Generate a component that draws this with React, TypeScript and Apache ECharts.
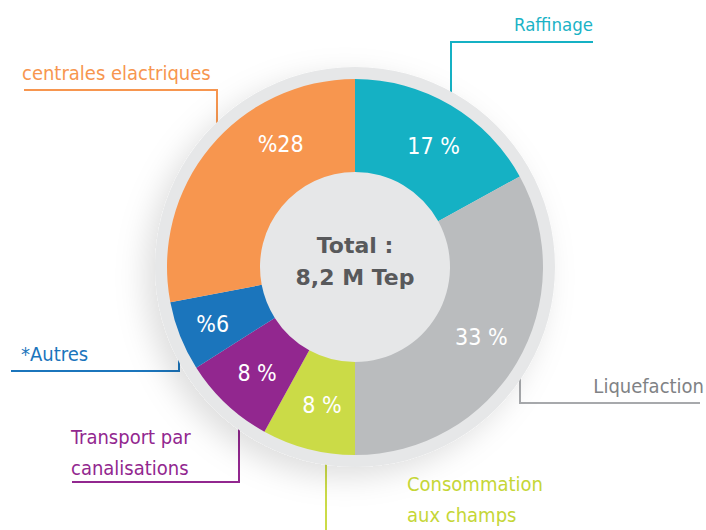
import React, { useEffect, useRef } from "react";
import * as echarts from "echarts";

// ---- data ----
const categories = [
  "Raffinage",
  "Liquefaction",
  "Consommation\naux champs",
  "Transport par\ncanalisations",
  "*Autres",
  "centrales elactriques",
];
const shares = [17, 33, 8, 8, 6, 28];
const shareLabels = ["17 %", "33 %", "8 %", "8 %", "%6", "%28"];
const totalLines = ["Total :", "8,2 M Tep"];

// ---- styles ----
const sliceColors = ["#15B1C4", "#BABCBE", "#CBDB47", "#92278F", "#1B75BC", "#F7964F"];
const nameColors = ["#1BB3C6", "#808285", "#C5D636", "#92278F", "#1B75BC", "#F7964F"];
const nameSizes = [18.5, 20, 20, 20, 20, 20];
const NARROW = "'Liberation Sans Narrow', 'DejaVu Sans Condensed', 'Roboto Condensed', sans-serif";
const CENTER: [number, number] = [355, 267];

// inner label nudges (dx, dy)
const innerShift: [number, number][] = [
  [5, 3],
  [2, -4],
  [3, -2],
  [1, 1],
  [-8, 4],
  [37, -31],
];

// outer label placement: anchor, alignment and elbow leader line
const outerLayout = [
  { x: 593, y: 40, align: "right", va: "bottom", pts: [[451, 107], [451, 42], [593, 42]] },
  { x: 704, y: 401, align: "right", va: "bottom", pts: [[520, 355], [520, 403], [700, 403]] },
  { x: 407, y: 468, align: "left", va: "top", pts: [[326, 456], [326, 530], [326, 531]] },
  { x: 71, y: 483, align: "left", va: "bottom", pts: [[239, 415], [239, 482], [72, 482]] },
  { x: 21, y: 369, align: "left", va: "bottom", pts: [[179, 335], [179, 371], [11, 371]] },
  { x: 22, y: 88, align: "left", va: "bottom", pts: [[217, 137], [217, 90], [24, 90]] },
];

export default function App() {
  const ref = useRef<HTMLDivElement>(null);

  useEffect(() => {
    if (!ref.current) return;
    const chart = echarts.init(ref.current, undefined, { renderer: "svg" });

    const mainData = shares.map((v, i) => ({
      value: v,
      name: categories[i],
      itemStyle: { color: sliceColors[i] },
    }));

    const nameData = shares.map((v, i) => ({
      value: v,
      name: categories[i],
      label: { color: nameColors[i], fontSize: nameSizes[i] },
      labelLine: { lineStyle: { color: i === 1 ? "#A7A9AC" : sliceColors[i] } },
    }));

    chart.setOption({
      animation: false,
      series: [
        {
          type: "pie",
          center: CENTER,
          radius: [0, 200],
          silent: true,
          label: { show: false },
          labelLine: { show: false },
          itemStyle: {
            color: "#E6E7E8",
            shadowBlur: 30,
            shadowOffsetX: -10,
            shadowOffsetY: 10,
            shadowColor: "rgba(0,0,0,0.13)",
          },
          data: [{ value: 1, name: "bg" }],
        },
        {
          type: "pie",
          center: CENTER,
          radius: [95, 188],
          startAngle: 90,
          clockwise: true,
          silent: true,
          avoidLabelOverlap: false,
          label: {
            show: true,
            position: "inside",
            color: "#ffffff",
            fontFamily: NARROW,
            fontSize: 23,
            formatter: (p: any) => shareLabels[p.dataIndex],
          },
          labelLayout: (p: any) => ({ dx: innerShift[p.dataIndex][0], dy: innerShift[p.dataIndex][1] }),
          data: mainData,
        },
        {
          type: "pie",
          center: CENTER,
          radius: [95, 188],
          startAngle: 90,
          clockwise: true,
          silent: true,
          avoidLabelOverlap: false,
          itemStyle: { color: "rgba(0,0,0,0)" },
          label: {
            show: true,
            position: "outside",
            fontFamily: NARROW,
            fontSize: 20,
            lineHeight: 31,
            formatter: "{b}",
          },
          labelLine: { show: true, length: 10, length2: 10, lineStyle: { width: 2 } },
          labelLayout: (p: any) => {
            const l = outerLayout[p.dataIndex];
            return {
              x: l.x,
              y: l.y,
              align: l.align,
              verticalAlign: l.va,
              labelLinePoints: l.pts,
            };
          },
          data: nameData,
        },
      ],
      graphic: [
        {
          type: "text",
          z: 100,
          x: CENTER[0],
          y: CENTER[1] - 6,
          style: {
            text: totalLines.join("\n"),
            align: "center",
            verticalAlign: "middle",
            fontFamily: "'DejaVu Sans', sans-serif",
            fontWeight: "bold",
            fontSize: 22,
            lineHeight: 32,
            fill: "#58595B",
          },
        },
      ],
    });

    return () => chart.dispose();
  }, []);

  return (
    <div
      ref={ref}
      style={{ position: "absolute", left: 0, top: 0, width: 706, height: 530, background: "#ffffff" }}
    />
  );
}
